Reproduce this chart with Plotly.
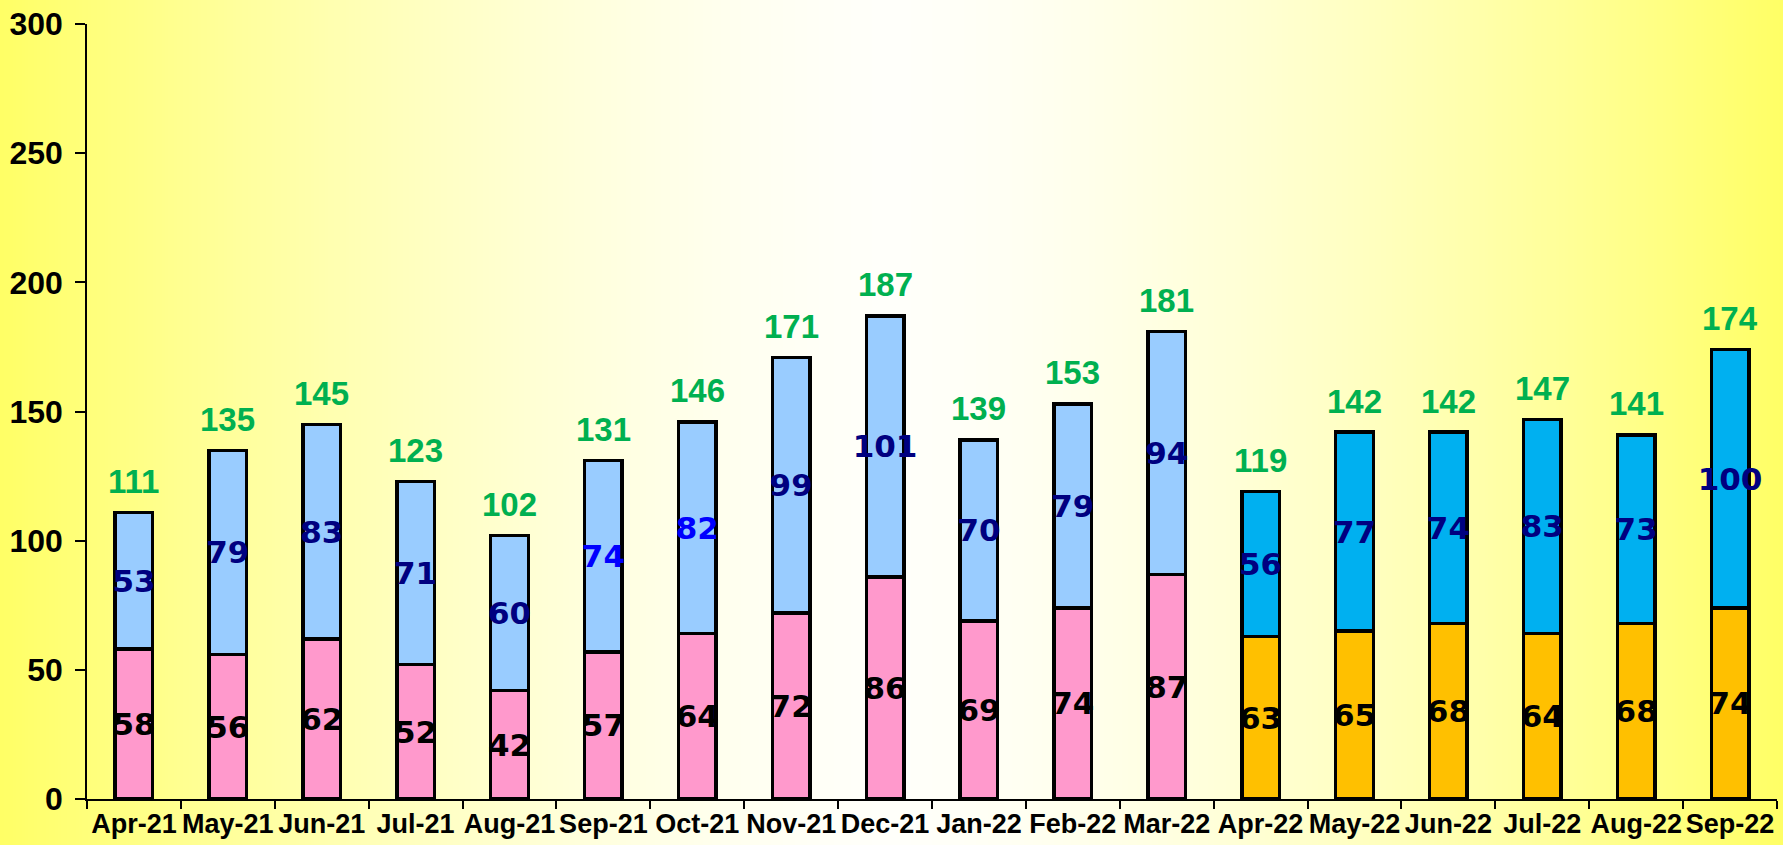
import base64, struct, zlib
import plotly.graph_objects as go

months = ["Apr-21", "May-21", "Jun-21", "Jul-21", "Aug-21", "Sep-21", "Oct-21", "Nov-21",
          "Dec-21", "Jan-22", "Feb-22", "Mar-22", "Apr-22", "May-22", "Jun-22", "Jul-22",
          "Aug-22", "Sep-22"]
lower = [58, 56, 62, 52, 42, 57, 64, 72, 86, 69, 74, 87, 63, 65, 68, 64, 68, 74]
upper = [53, 79, 83, 71, 60, 74, 82, 99, 101, 70, 79, 94, 56, 77, 74, 83, 73, 100]
totals = [111, 135, 145, 123, 102, 131, 146, 171, 187, 139, 153, 181, 119, 142, 142, 147, 141, 174]
y_ticks = [0, 50, 100, 150, 200, 250, 300]

W, H = 1783, 845
ML, MR, MT, MB = 87, 6, 24, 46
PW, PH = W - ML - MR, H - MT - MB

# colours: first 12 months (FY21-22) vs last 6 (FY22-23)
lower_colors = ["#FF99CC"] * 12 + ["#FFC000"] * 6
upper_colors = ["#99CCFF"] * 12 + ["#00B0F0"] * 6
upper_text_colors = ["#000080"] * 18
upper_text_colors[5] = "#0000FF"
upper_text_colors[6] = "#0000FF"


def gradient_png(width):
    raw = b"\x00"
    c = (width - 1) / 2
    for i in range(width):
        t = 1 - abs(i - c) / c  # 0 at edges, 1 at centre
        b = int(round(102 + (250 - 102) * (1 - (1 - t) ** 1.5)))
        raw += bytes([255, 255, b])

    def chunk(tag, data):
        return struct.pack(">I", len(data)) + tag + data + struct.pack(">I", zlib.crc32(tag + data) & 0xffffffff)

    png = b"\x89PNG\r\n\x1a\n"
    png += chunk(b"IHDR", struct.pack(">IIBBBBB", width, 1, 8, 2, 0, 0, 0))
    png += chunk(b"IDAT", zlib.compress(raw))
    png += chunk(b"IEND", b"")
    return "data:image/png;base64," + base64.b64encode(png).decode()


fig = go.Figure()
inner_font = dict(family="DejaVu Sans", size=31, weight="bold")
fig.add_trace(go.Bar(
    x=months, y=lower, marker=dict(color=lower_colors, line=dict(color="black", width=3.5)),
    text=[str(v) for v in lower], textposition="inside", insidetextanchor="middle",
    textangle=0, constraintext="none",
    textfont=dict(**inner_font, color="black"), hoverinfo="skip",
))
fig.add_trace(go.Bar(
    x=months, y=upper, marker=dict(color=upper_colors, line=dict(color="black", width=3.5)),
    text=[str(v) for v in upper], textposition="inside", insidetextanchor="middle",
    textangle=0, constraintext="none",
    textfont=dict(**inner_font, color=upper_text_colors), hoverinfo="skip",
))

for m, t in zip(months, totals):
    fig.add_annotation(x=m, y=t, text=str(t), showarrow=False, yanchor="middle", yshift=31,
                       font=dict(family="Liberation Sans, Arial", size=33, color="#00B050", weight="bold"))

fig.update_layout(
    width=W, height=H, barmode="stack", bargap=0.6, showlegend=False,
    margin=dict(l=ML, r=MR, t=MT, b=MB, pad=0),
    paper_bgcolor="#FFFFCC", plot_bgcolor="rgba(0,0,0,0)",
    font=dict(family="Liberation Sans, Arial", color="black"),
    images=[dict(source=gradient_png(600), xref="paper", yref="paper",
                 x=-ML / PW, y=1 + MT / PH, sizex=W / PW, sizey=H / PH,
                 xanchor="left", yanchor="top", sizing="stretch", layer="below")],
    xaxis=dict(type="category", range=[-0.5, 17.5], showline=True, linecolor="black", linewidth=1.5,
               ticks="outside", ticklen=8, tickwidth=1.5, tickcolor="black", tickson="boundaries",
               tickangle=0, tickfont=dict(size=27, weight="bold", color="black"),
               showgrid=False, zeroline=False),
    yaxis=dict(range=[0, 300], tickvals=y_ticks, showline=True, linecolor="black", linewidth=1.5,
               ticks="outside", ticklen=10, tickwidth=1.5, tickcolor="black",
               tickfont=dict(size=32, weight="bold", color="black"), ticklabelstandoff=6,
               showgrid=False, zeroline=False),
    xaxis2=dict(overlaying="x", anchor="y2", range=[-0.5, 17.5], tick0=-0.5, dtick=1,
                ticks="inside", ticklen=8, tickwidth=1.5, tickcolor="black",
                showticklabels=False, showgrid=False, zeroline=False, showline=False),
    yaxis2=dict(overlaying="y", anchor="x2", range=[0, 300], tickvals=y_ticks,
                ticks="inside", ticklen=9, tickwidth=1.5, tickcolor="black",
                showticklabels=False, showgrid=False, zeroline=False, showline=False),
)

fig.write_html("out.html")
